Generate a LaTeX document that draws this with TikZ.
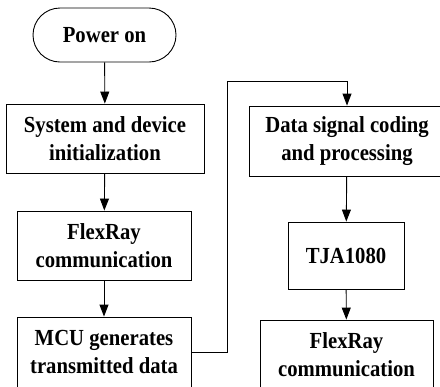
\documentclass[tikz,border=0pt]{standalone}
\usepackage{fontspec}
\setmainfont{Liberation Serif}[FakeStretch=0.9]
\usetikzlibrary{arrows.meta}
\tikzset{
  box/.style={draw, line width=0.9bp, align=center, inner sep=0pt,
    font=\fontsize{23bp}{28bp}\selectfont\bfseries},
  flow/.style={draw, line width=0.9bp, -{Triangle[length=12bp,width=9bp]}}
}
\begin{document}
\begin{tikzpicture}[x=1bp,y=-1bp]
\useasboundingbox (0,0) rectangle (440,386);
\clip (0,0) rectangle (440,386);
% left column
\node[box, minimum width=143bp, minimum height=54bp, rounded corners=27bp] (pw) at (104.5,35) {Power on};
\node[box, minimum width=198bp, minimum height=69bp] (sys) at (105,138.5) {System and device\\initialization};
\node[box, minimum width=174bp, minimum height=69bp] (fr1) at (104,245.5) {FlexRay\\communication};
\node[box, minimum width=174bp, minimum height=70bp] (mcu) at (104,352) {MCU generates\\transmitted data};
% right column
\node[box, minimum width=196bp, minimum height=70bp] (dsp) at (347,141) {Data signal coding\\and processing};
\node[box, minimum width=116bp, minimum height=67bp] (tja) at (346,255.5) {TJA1080};
\node[box, minimum width=173bp, minimum height=70bp] (fr2) at (346.5,355) {FlexRay\\communication};
% connectors
\draw[flow] (pw) -- (sys);
\draw[flow] (sys) -- (fr1);
\draw[flow] (fr1) -- (mcu);
\coordinate (c1) at (227,352);
\coordinate (c2) at (227,81);
\coordinate (c3) at (dsp.north |- c2);
\draw[flow] (mcu.east |- c1) -- (c1) -- (c2) -- (c3) -- (dsp.north);
\draw[flow] (dsp) -- (tja);
\draw[flow] (tja) -- (fr2);
\end{tikzpicture}
\end{document}
